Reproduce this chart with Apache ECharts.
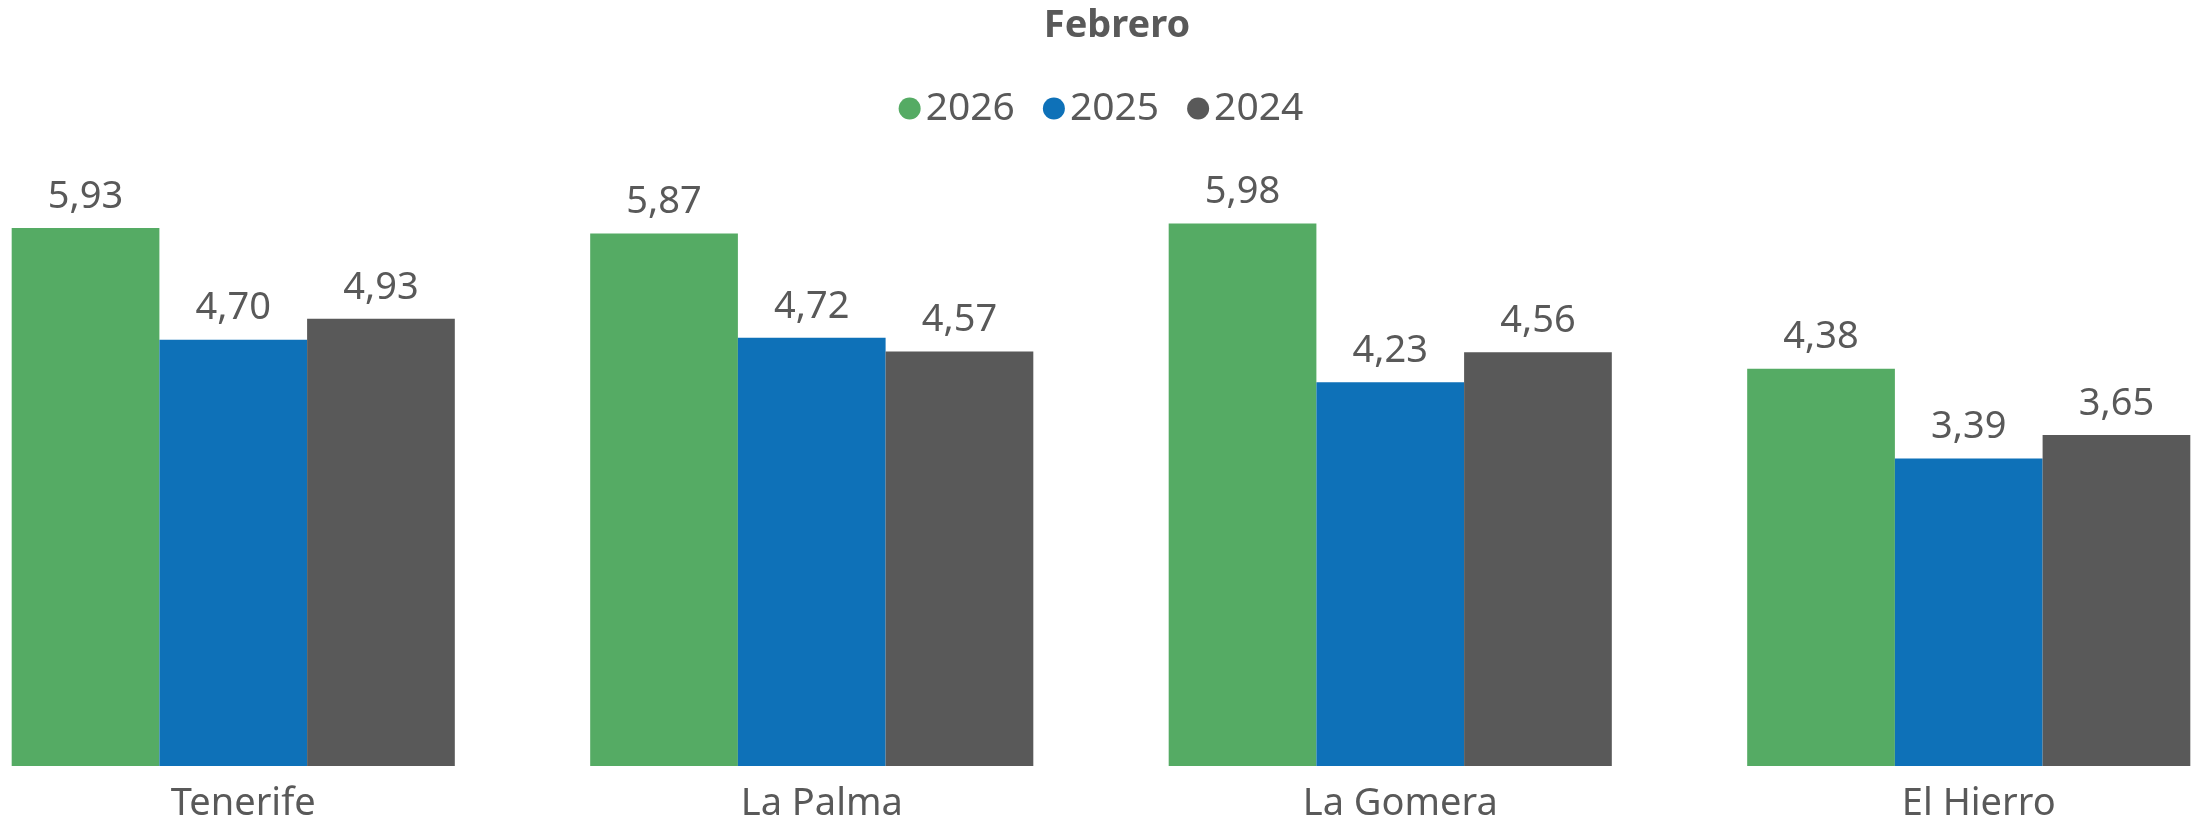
<!DOCTYPE html>
<html>
<head>
<meta charset="utf-8">
<script src="https://cdn.jsdelivr.net/npm/echarts@6/dist/echarts.min.js"></script>
<style>html,body{margin:0;padding:0;background:#fff;overflow:hidden;width:2202px;height:823px}#c{width:2314px;height:823px;margin-left:-56px}</style>
</head>
<body>
<div id="c"></div>
<script>
const categories = ['Tenerife', 'La Palma', 'La Gomera', 'El Hierro'];
const seriesNames = ['2026', '2025', '2024'];
const values2026 = [5.93, 5.87, 5.98, 4.38];
const values2025 = [4.70, 4.72, 4.23, 3.39];
const values2024 = [4.93, 4.57, 4.56, 3.65];
const colors = ['#55AB64', '#0E71B8', '#595959'];
const titleText = 'Febrero';

const FONT = 'Noto Sans';
const TXT = '#595959';
const allValues = [values2026, values2025, values2024];

const chart = echarts.init(document.getElementById('c'), null, {renderer: 'canvas'});
chart.setOption({
  animation: false,
  backgroundColor: '#ffffff',
  title: {
    text: titleText,
    left: 1168, top: 2, textAlign: 'center',
    textStyle: {fontFamily: FONT, fontSize: 38, fontWeight: 'bold', color: TXT}
  },
  legend: {
    data: seriesNames,
    left: 'center', top: 84,
    icon: 'circle', itemWidth: 22, itemHeight: 22, itemGap: 28,
    textStyle: {fontFamily: FONT, fontSize: 39, color: TXT, padding: [0, 0, 0, 0]}
  },
  grid: {left: 0, right: 0, top: 131, bottom: 57, containLabel: false},
  xAxis: {
    type: 'category', data: categories,
    axisLine: {show: false}, axisTick: {show: false},
    axisLabel: {fontFamily: FONT, fontSize: 38, color: TXT, margin: 19, padding: [0, 0, 0, 20]}
  },
  yAxis: {
    type: 'value', min: 0, max: 7,
    show: false, splitLine: {show: false}
  },
  series: seriesNames.map((n, i) => ({
    name: n, type: 'bar', data: allValues[i],
    barGap: '0%', barCategoryGap: '23.4%',
    itemStyle: {color: colors[i]},
    label: {
      show: true, position: 'top', distance: 12,
      fontFamily: FONT, fontSize: 38, color: TXT,
      formatter: p => p.value.toFixed(2).replace('.', ',')
    }
  }))
});
</script>
</body>
</html>
